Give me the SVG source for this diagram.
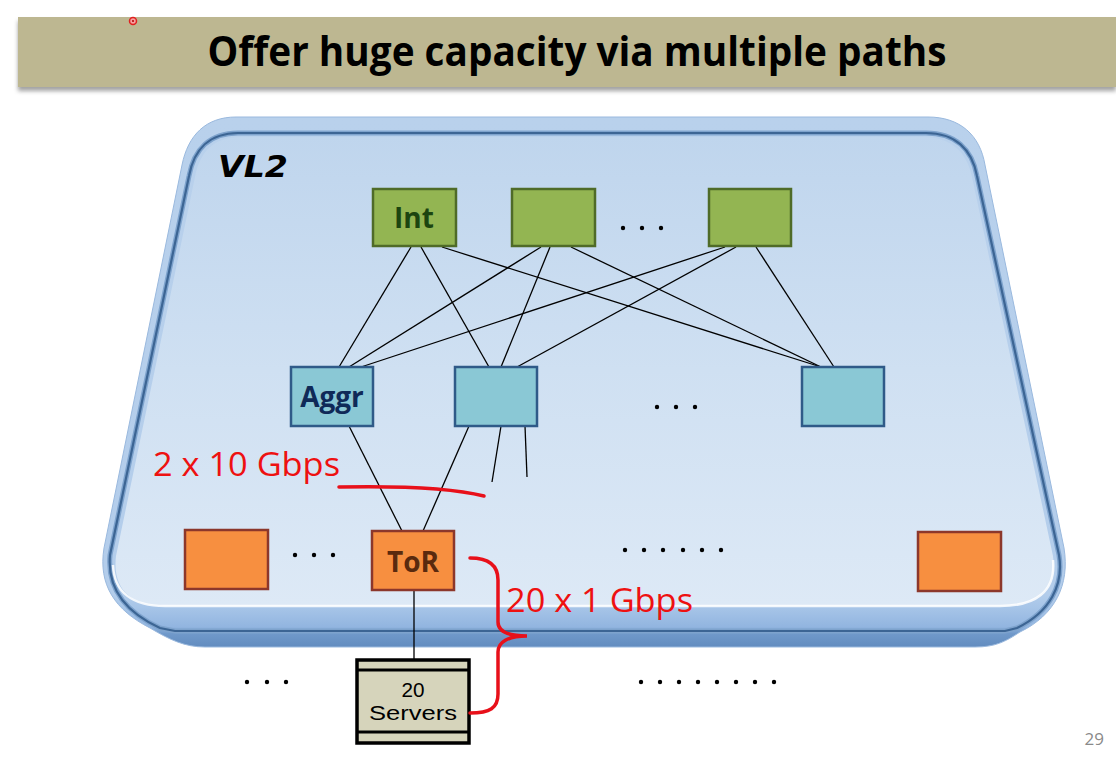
<svg xmlns="http://www.w3.org/2000/svg" width="1116" height="760" viewBox="0 0 1116 760">
<defs>
<linearGradient id="slab" x1="0" y1="117" x2="0" y2="647" gradientUnits="userSpaceOnUse">
<stop offset="0" stop-color="#b9d1ec"/>
<stop offset="0.9" stop-color="#b3cdeb"/>
<stop offset="0.925" stop-color="#a7c5e8"/>
<stop offset="0.962" stop-color="#92b5e0"/>
<stop offset="0.975" stop-color="#7099ca"/>
<stop offset="1" stop-color="#628cbf"/>
</linearGradient>
<linearGradient id="face" x1="0" y1="135" x2="0" y2="605" gradientUnits="userSpaceOnUse">
<stop offset="0" stop-color="#bfd5ed"/>
<stop offset="0.5" stop-color="#cfe0f2"/>
<stop offset="1" stop-color="#dde9f6"/>
</linearGradient>
<filter id="sh" x="-5%" y="-50%" width="110%" height="200%">
<feGaussianBlur stdDeviation="2"/>
</filter>
<style>
.int{fill:#93b552;stroke:#4f6b28;stroke-width:2.5}
.agg{fill:#8ac8d5;stroke:#2f5a88;stroke-width:2.5}
.tor{fill:#f78f40;stroke:#8c372b;stroke-width:2.5}
.lbl{font-family:"Open Sans","Liberation Sans",sans-serif;font-weight:bold;font-size:28px;text-anchor:middle}
.red{font-family:"Open Sans","Liberation Sans",sans-serif;font-size:33px;fill:#ee1111}
.srv{font-family:"Liberation Sans","Open Sans",sans-serif;font-size:20px;text-anchor:middle;fill:#000}
.ln{stroke:#000;stroke-width:1.3;fill:none}
.dot{fill:#000}
.rs{stroke:#e8101a;stroke-width:3.5;fill:none;stroke-linecap:round}
</style>
</defs>
<rect width="1116" height="760" fill="#ffffff"/>

<!-- title banner -->
<g id="title">
<rect x="18" y="21" width="1098" height="70" fill="#555" opacity="0.55" filter="url(#sh)"/>
<rect x="18" y="17" width="1098" height="70" fill="#bdb791"/>
<text x="577" y="66" font-family="Open Sans, Liberation Sans, sans-serif" font-weight="bold" font-size="41" text-anchor="middle" textLength="739" lengthAdjust="spacingAndGlyphs" fill="#000">Offer huge capacity via multiple paths</text>
<circle cx="133" cy="21" r="3.5" fill="#f7a0a0" stroke="#e02020" stroke-width="1.5"/>
<circle cx="133" cy="21" r="1" fill="#b00000"/>
</g>

<!-- platform -->
<g id="platform">
<path d="M 236,117 L 928,117 C 960,117 980,135 985,165 L 1064,548 C 1070,585 1055,615 1020,632 C 1005,642 995,647 975,647 L 205,647 C 185,647 170,640 150,628 C 115,610 98,585 104,548 L 182,165 C 188,135 206,117 236,117 Z" fill="url(#slab)" stroke="#9ab9de" stroke-width="1"/>
<path d="M 238,133 L 926,133 C 955,133 972,149 977,176 L 1059,555 C 1064,585 1050,612 1017,628 L 1005,631 L 175,631 L 160,628 C 125,612 107,588 110,555 L 189,176 C 194,149 210,133 238,133 Z" fill="none" stroke="#7ea3cd" stroke-width="5"/>
<path d="M 238,133 L 926,133 C 955,133 972,149 977,176 L 1059,555 C 1064,585 1050,612 1017,628 L 1005,631 L 175,631 L 160,628 C 125,612 107,588 110,555 L 189,176 C 194,149 210,133 238,133 Z" fill="none" stroke="#3c6594" stroke-width="2.2"/>
<path d="M 241,137 L 923,137 C 951,137 967,152 972,177 L 1053,556 C 1058,590 1035,606 1000,606 L 165,606 C 132,606 112,590 116,556 L 195,177 C 200,152 213,137 241,137 Z" fill="url(#face)"/>
<path d="M 1053,560 C 1056,592 1035,606 1000,606 L 165,606 C 132,606 114,592 113,565" fill="none" stroke="#ffffff" stroke-width="2.5" opacity="0.85"/>
<text x="218" y="177" font-family="DejaVu Sans, Verdana, sans-serif" font-weight="bold" font-style="italic" font-size="31" fill="#000" textLength="70" lengthAdjust="spacingAndGlyphs">VL2</text>
</g>

<!-- connectors -->
<g id="connectors">
<line class="ln" x1="411" y1="247" x2="339" y2="367"/>
<line class="ln" x1="421" y1="247" x2="489" y2="367"/>
<line class="ln" x1="442" y1="247" x2="821" y2="367"/>
<line class="ln" x1="541" y1="247" x2="349" y2="367"/>
<line class="ln" x1="550" y1="247" x2="501" y2="367"/>
<line class="ln" x1="571" y1="247" x2="821" y2="367"/>
<line class="ln" x1="725" y1="247" x2="361" y2="367"/>
<line class="ln" x1="736" y1="247" x2="517" y2="367"/>
<line class="ln" x1="756" y1="247" x2="834" y2="367"/>
<line class="ln" x1="349" y1="426" x2="402" y2="531"/>
<line class="ln" x1="469" y1="426" x2="423" y2="531"/>
<line class="ln" x1="501" y1="426" x2="492" y2="482"/>
<line class="ln" x1="525" y1="426" x2="527" y2="477"/>
<line class="ln" x1="414" y1="590" x2="414" y2="660"/>
</g>

<!-- Int switches -->
<g id="int1"><rect class="int" x="373" y="189" width="83" height="57"/><text class="lbl" x="414" y="228" fill="#1c4510">Int</text></g>
<g id="int2"><rect class="int" x="512" y="189" width="83" height="57"/></g>
<g id="int3"><rect class="int" x="709" y="189" width="82" height="57"/></g>
<g id="int-dots"><circle class="dot" cx="623" cy="228" r="2.2"/><circle class="dot" cx="642" cy="228" r="2.2"/><circle class="dot" cx="661" cy="228" r="2.2"/></g>

<!-- Aggr switches -->
<g id="aggr1"><rect class="agg" x="291" y="367" width="82" height="59"/><text class="lbl" x="332" y="407" fill="#0f2a58">Aggr</text></g>
<g id="aggr2"><rect class="agg" x="455" y="367" width="82" height="59"/></g>
<g id="aggr3"><rect class="agg" x="802" y="367" width="82" height="59"/></g>
<g id="aggr-dots"><circle class="dot" cx="657" cy="407" r="2.2"/><circle class="dot" cx="676" cy="407" r="2.2"/><circle class="dot" cx="695" cy="407" r="2.2"/></g>

<!-- ToR switches -->
<g id="tor-left"><rect class="tor" x="185" y="530" width="83" height="59"/></g>
<g id="tor"><rect class="tor" x="372" y="531" width="82" height="59"/><text class="lbl" x="413" y="572" fill="#5a2a0e">ToR</text></g>
<g id="tor-right"><rect class="tor" x="918" y="532" width="83" height="59"/></g>
<g id="tor-dots">
<circle class="dot" cx="295" cy="555" r="2.2"/><circle class="dot" cx="314" cy="555" r="2.2"/><circle class="dot" cx="333" cy="555" r="2.2"/>
<circle class="dot" cx="625" cy="550" r="2.2"/><circle class="dot" cx="644" cy="550" r="2.2"/><circle class="dot" cx="663" cy="550" r="2.2"/><circle class="dot" cx="683" cy="550" r="2.2"/><circle class="dot" cx="702" cy="550" r="2.2"/><circle class="dot" cx="721" cy="550" r="2.2"/>
</g>

<!-- Servers -->
<g id="servers">
<rect x="357" y="660" width="112" height="83" fill="#d6d4bb" stroke="#000" stroke-width="3.5"/>
<line x1="357" y1="670" x2="469" y2="670" stroke="#000" stroke-width="3"/>
<line x1="357" y1="732" x2="469" y2="732" stroke="#000" stroke-width="3"/>
<text class="srv" x="413" y="697" textLength="23" lengthAdjust="spacingAndGlyphs">20</text>
<text class="srv" x="413" y="720" textLength="88" lengthAdjust="spacingAndGlyphs">Servers</text>
</g>
<g id="server-dots">
<circle class="dot" cx="247" cy="682" r="2.2"/><circle class="dot" cx="267" cy="682" r="2.2"/><circle class="dot" cx="286" cy="682" r="2.2"/>
<circle class="dot" cx="641" cy="682" r="2.2"/><circle class="dot" cx="660" cy="682" r="2.2"/><circle class="dot" cx="679" cy="682" r="2.2"/><circle class="dot" cx="698" cy="682" r="2.2"/><circle class="dot" cx="717" cy="682" r="2.2"/><circle class="dot" cx="736" cy="682" r="2.2"/><circle class="dot" cx="755" cy="682" r="2.2"/><circle class="dot" cx="774" cy="682" r="2.2"/>
</g>

<!-- annotations -->
<g id="annot-uplink">
<text class="red" x="153" y="476" textLength="187" lengthAdjust="spacingAndGlyphs">2 x 10 Gbps</text>
<path class="rs" d="M 339,487 Q 440,485 484,496"/>
</g>
<g id="annot-downlink">
<text class="red" x="506" y="612" textLength="187" lengthAdjust="spacingAndGlyphs">20 x 1 Gbps</text>
<path class="rs" d="M 470,558 C 490,558 498,566 498,580 L 498,622 C 498,632 508,636 527,636 C 508,636 498,642 498,652 L 498,694 C 498,708 490,713 470,713"/>
</g>

<text id="page" x="1104" y="745" font-family="Open Sans, Liberation Sans, sans-serif" font-size="17" text-anchor="end" fill="#8a8a8a">29</text>
</svg>
